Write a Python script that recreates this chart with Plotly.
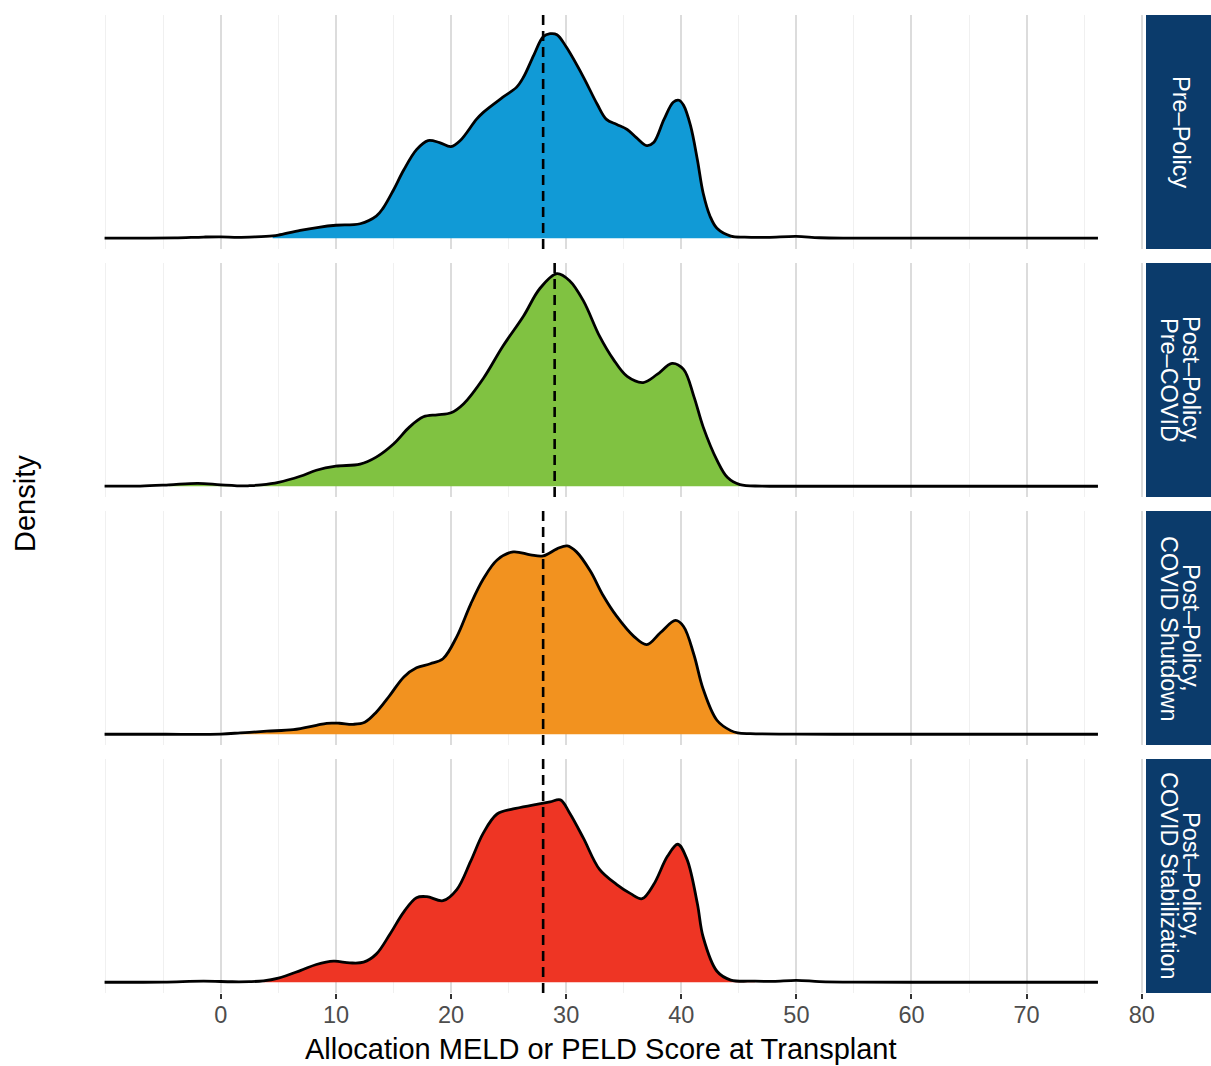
import numpy as np
import plotly.graph_objects as go
from plotly.subplots import make_subplots

# ---------------- data ----------------
periods = ["Pre–Policy", "Post–Policy, Pre–COVID",
           "Post–Policy, COVID Shutdown", "Post–Policy, COVID Stabilization"]
strip_lines = [["Pre–Policy"],
               ["Post–Policy,", "Pre–COVID"],
               ["Post–Policy,", "COVID Shutdown"],
               ["Post–Policy,", "COVID Stabilization"]]

pre_policy_x = [-10.1, -7, -4, -1.5, 0, 1.5, 3, 4.5, 5, 6.9, 8.5, 10, 12.1, 13.5, 14.1, 15,
                15.9, 17, 18, 19, 20, 20.8, 22.2, 22.8, 24.5, 25.7, 26.3, 27.2, 28.0, 28.6,
                29.2, 30.0, 31.5, 32.7, 33.5, 34.4, 35.3, 36.1, 37, 37.6, 38.5, 39.3, 39.8,
                40.2, 40.8, 41.4, 41.9, 42.5, 43.1, 44.3, 45.5, 47.5, 50, 52, 55, 60, 65, 70, 76.2]
pre_policy_y = [0.3, 0.2, 0.5, 1.3, 1.5, 1.0, 1.5, 2.5, 3.3, 8, 11, 13, 14.5, 22, 30, 48,
                68, 88, 97, 95, 91, 97, 118, 125, 140, 150, 160, 182, 200, 203,
                202, 190, 160, 133, 118, 113, 108, 100, 92, 95, 118, 135, 137,
                132, 112, 78, 45, 22, 10, 2.3, 1.2, 1.0, 2.0, 0.6, 0.3, 0.2, 0.3, 0.2, 0.2]

pre_covid_x = [-10.1, -7, -4.5, -2, 0, 2, 2.5, 3.5, 5, 6.9, 8.3, 10, 12.1, 13.5, 15, 16.4,
               17.6, 18.8, 20, 21.1, 22.8, 24.5, 26.3, 27.7, 29.2, 30.3, 31.5, 32.9, 34.1,
               35.3, 36.7, 37.9, 39.2, 40.2, 41.1, 41.9, 43.1, 44.0, 45.1, 47, 50, 55, 60, 65, 70, 76.2]
pre_covid_y = [0.2, 0.3, 1.5, 3.0, 1.5, 0.4, 0.7, 1.5, 4, 10, 16, 20, 22, 29, 42, 59,
               69, 71, 73, 82, 107, 139, 169, 196, 211, 204, 184, 149, 126,
               109, 103, 111, 122, 116, 89, 59, 26, 9, 1.7, 0.3, 0.1, 0.1, 0.1, 0.1, 0.1, 0.1]

shutdown_x = [-10.1, -5, 0, 1.7, 2.5, 4, 6.3, 8.3, 9.2, 10.3, 11.5, 12.5, 13.5, 14.7, 15.9,
              17, 18.2, 19.3, 20.5, 21.7, 22.8, 24, 25.4, 26.9, 28, 29.2, 30.1, 30.9, 32.1,
              33.2, 34.4, 35.9, 37, 38.2, 39.5, 40.2, 41.1, 41.9, 43.1, 44.3, 44.9, 46, 50, 55, 60, 65, 70, 76.2]
shutdown_y = [0.1, 0.1, 0.3, 1.5, 2.0, 3.2, 4.7, 9, 11, 11, 10, 12, 22, 39, 57,
              66, 70, 75, 97, 129, 154, 173, 181, 178, 177, 184, 187, 181, 162,
              138, 117, 97, 89, 101, 113, 107, 79, 45, 14, 3.7, 1.5, 0.7, 0.2, 0.1, 0.1, 0.1, 0.1, 0.1]

stabilization_x = [-10.1, -5, -1.5, 1, 2.5, 3.7, 5, 6.9, 8.3, 9.8, 11.2, 12.4, 13.5, 14.7,
                   15.9, 17, 17.9, 19.3, 20.5, 21.7, 22.8, 24, 25.4, 27.2, 28.6, 29.5, 30.3,
                   31.5, 32.9, 34.4, 35.6, 36.6, 37.6, 38.8, 39.7, 40.5, 41.4, 41.9, 43.1,
                   44.3, 46.4, 48, 50, 52, 55, 60, 70, 76.2]
stabilization_y = [0.1, 0.3, 1.2, 0.6, 0.7, 1.5, 4.3, 11.7, 17.7, 21, 19.3, 20, 28, 48,
                   70, 84, 85, 81, 92, 120, 148, 167, 172, 176, 179, 181, 168,
                   143, 112, 97, 88, 83, 97, 125, 137, 122, 78, 45, 11,
                   2.3, 1.2, 1.0, 2.0, 0.8, 0.2, 0.1, 0.1, 0.1]

fill_low = [4.5, -4.5, 1.7, 3.7]
fill_high = [44.3, 45.1, 44.9, 46.4]
medians = [28.0, 29.0, 28.0, 28.0]
tick_values = [0, 10, 20, 30, 40, 50, 60, 70, 80]

xs = [pre_policy_x, pre_covid_x, shutdown_x, stabilization_x]
ys = [pre_policy_y, pre_covid_y, shutdown_y, stabilization_y]
colors = ["#119AD6", "#80C241", "#F2921F", "#EE3524"]
strip_color = "#0B3B6B"
FONT = "Liberation Sans, Arial, sans-serif"

# ---------------- figure ----------------
W, H = 1211, 1066
ML, MR, MT, MB = 104, 67, 15, 73
PW = W - ML - MR
PH = H - MT - MB


def fx(px_ref):
    """reference pixel x -> paper x"""
    return (px_ref - ML) / PW


def fy(py_ref):
    """reference pixel y -> paper y"""
    return (H - MB - py_ref) / PH


fig = make_subplots(rows=4, cols=1, shared_xaxes=True, vertical_spacing=14 / PH)

ymax = max(max(v) for v in ys)
yrange = [-0.05 * ymax, 1.05 * ymax]

for i in range(4):
    r = i + 1
    x = np.array(xs[i])
    y = np.array(ys[i])
    m = (x >= fill_low[i]) & (x <= fill_high[i])
    fig.add_trace(go.Scatter(x=x[m], y=y[m], mode="lines", fill="tozeroy",
                             fillcolor=colors[i], line=dict(width=0, shape="spline", smoothing=1.0),
                             hoverinfo="skip", showlegend=False), row=r, col=1)
    fig.add_trace(go.Scatter(x=x, y=y, mode="lines",
                             line=dict(color="black", width=2.8, shape="spline", smoothing=1.0),
                             name=periods[i], showlegend=False), row=r, col=1)
    yname = "y" if r == 1 else f"y{r}"
    fig.add_shape(type="line", xref="x" if r == 1 else f"x{r}", yref=f"{yname} domain",
                  x0=medians[i], x1=medians[i], y0=0, y1=1,
                  line=dict(color="black", width=2.6, dash="10px,6px"))
    # strip
    fig.add_shape(type="rect", xref="paper", yref=f"{yname} domain",
                  x0=fx(1146), x1=fx(1212), y0=0, y1=1,
                  fillcolor=strip_color, line=dict(width=0), layer="above")
    lines = strip_lines[i]
    pos = [1181] if len(lines) == 1 else [1191, 1169]
    for txt, px in zip(lines, pos):
        fig.add_annotation(text=txt, xref="paper", yref=f"{yname} domain",
                           x=fx(px), y=0.5, xanchor="center", yanchor="middle",
                           textangle=90, showarrow=False,
                           font=dict(family=FONT, size=23.5, color="white"))
    fig.update_yaxes(row=r, col=1, range=yrange, showticklabels=False, showgrid=False,
                     zeroline=False, ticks="", showline=False)
    fig.update_xaxes(row=r, col=1, range=[-10.15, 80.2], tickvals=tick_values,
                     showgrid=True, gridcolor="#DCDCDC", gridwidth=2,
                     minor=dict(dtick=5, tick0=0, showgrid=True, gridcolor="#F0F0F0", gridwidth=1.3),
                     zeroline=False, showline=False,
                     ticks="outside" if r == 4 else "", ticklen=5, tickwidth=2, tickcolor="#333333",
                     ticklabelstandoff=-4,
                     tickfont=dict(family=FONT, size=23.5, color="#4D4D4D"))

fig.add_annotation(text="Allocation MELD or PELD Score at Transplant", xref="paper", yref="paper",
                   x=fx(601), y=fy(1049), xanchor="center", yanchor="middle",
                   showarrow=False, font=dict(family=FONT, size=29, color="black"))
fig.add_annotation(text="Density", xref="paper", yref="paper",
                   x=fx(25), y=0.5, xanchor="center", yanchor="middle", textangle=-90,
                   showarrow=False, font=dict(family=FONT, size=29, color="black"))

fig.update_layout(width=W, height=H, margin=dict(l=ML, r=MR, t=MT, b=MB),
                  plot_bgcolor="white", paper_bgcolor="white",
                  font=dict(family=FONT), showlegend=False)

fig.write_html("out.html", config={"displayModeBar": False},
               post_script="document.body.style.margin='0px';"
                           "document.body.style.overflow='hidden';")
